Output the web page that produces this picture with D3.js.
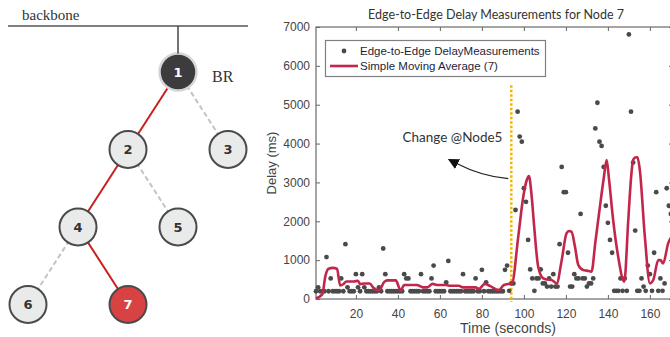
<!DOCTYPE html>
<html>
<head>
<meta charset="utf-8">
<script src="https://cdn.jsdelivr.net/npm/d3@7"></script>
<style>
  body { margin: 0; background: #fff; }
  svg { display: block; }
</style>
</head>
<body>
<svg id="chart" width="670" height="337"></svg>
<script>
// network tree on the left
const nodeIds     = ["1", "2", "3", "4", "5", "6", "7"];
const nodeParents = [null, "1", "1", "2", "2", "4", "4"];
const pathNodes   = ["1", "2", "4", "7"];   // route from BR to node 7
const targetNode  = "7";

// delay measurements, one per second starting at t = 1
const delays = [
  200, 300, 200, 200, 200, 1080, 200, 530, 200, 200,
  200, 200, 530, 200, 1410, 300, 200, 200, 200, 640,
  300, 200, 640, 300, 200, 200, 200, 200, 200, 200,
  300, 200, 1300, 640, 200, 200, 200, 200, 200, 200,
  200, 200, 640, 530, 530, 200, 200, 200, 200, 200,
  640, 200, 200, 200, 200, 530, 860, 200, 200, 200,
  200, 200, 430, 980, 200, 200, 200, 200, 200, 200,
  640, 200, 200, 200, 200, 200, 530, 200, 200, 750,
  200, 430, 200, 200, 200, 200, 200, 200, 200, 200,
  750, 860, 210, 400, 400, 2290, 4820, 4180, 4050, 2850,
  2500, 1520, 760, 530, 210, 530, 530, 760, 400, 400,
  320, 530, 320, 640, 320, 320, 1410, 3400, 2750, 2750,
  1190, 320, 320, 640, 530, 530, 2190, 530, 530, 320,
  400, 400, 530, 4390, 5050, 4050, 3940, 3400, 2400, 1960,
  1520, 1190, 210, 210, 210, 530, 210, 530, 210, 6810,
  4820, 3510, 1760, 210, 210, 530, 320, 210, 860, 640,
  210, 1190, 2750, 210, 530, 210, 400, 2850, 2400, 2190
];

// simple moving average (7) as drawn
const smaTimes = [1, 4, 5.5, 7, 9, 11, 12.5, 14, 15.5, 19, 21, 22, 24, 26.5, 28.5, 31, 33.5, 35, 39, 41.3,
  43, 49, 52, 54, 56.5, 59, 63, 65, 69, 71, 77, 78.6, 81.4, 84, 88, 90.5, 93, 94.3, 97.3, 99.7,
  101.3, 102.4, 103.6, 104.9, 106.8, 109.2, 111, 113.2, 115.6, 118, 120.3, 121.5, 122.7, 124.3, 125.9, 128.2,
  130, 132.2, 134, 136.2, 138, 139.4, 140.5, 142.5, 144.9, 147.8, 149.7, 151, 152, 153, 154.1, 155.2,
  157.6, 160, 161.6, 164, 165, 166.3, 168.7, 171];
const smaValues = [20, 120, 600, 780, 800, 780, 350, 380, 450, 450, 470, 380, 400, 400, 280, 220, 440, 480, 480, 220,
  360, 360, 300, 300, 390, 360, 360, 340, 340, 300, 300, 260, 390, 330, 230, 360, 390, 400, 1600, 2630,
  3050, 3165, 2700, 1860, 830, 530, 500, 490, 400, 1000, 1690, 1750, 1730, 1350, 875, 746,
  730, 703, 1450, 2376, 3100, 3577, 3100, 2033, 1089, 445, 2033, 3100, 3577, 3640, 3646, 3320,
  1603, 403, 489, 1003, 1000, 918, 1433, 1650];

const xTicks = [20, 40, 60, 80, 100, 120, 140, 160];
const yTicks = [0, 1000, 2000, 3000, 4000, 5000, 6000, 7000];
const changeTime = 94;

const svg = d3.select("#chart");

// ---------- tree ----------
const rows = nodeIds.map((id, i) => ({ id: id, parent: nodeParents[i] }));
const root = d3.stratify().id(d => d.id).parentId(d => d.parent)(rows);
d3.tree().nodeSize([100, 77.5]).separation(() => 1)(root);

const tg = svg.append("g").attr("transform", "translate(178,72)");
const nodeR = 18.5;

svg.append("line")
  .attr("x1", 8).attr("x2", 248).attr("y1", 26).attr("y2", 26)
  .attr("stroke", "#555").attr("stroke-width", 1.5);
svg.append("line")
  .attr("x1", 178).attr("x2", 178).attr("y1", 26).attr("y2", 72 - nodeR)
  .attr("stroke", "#444").attr("stroke-width", 1.5);
svg.append("text")
  .attr("x", 22).attr("y", 20)
  .attr("font-family", "Liberation Serif, serif").attr("font-size", 15)
  .attr("fill", "#333").text("backbone");

const onPath = l => pathNodes.includes(l.source.id) && pathNodes.includes(l.target.id);

tg.selectAll("line.edge")
  .data(root.links())
  .join("line")
    .attr("class", "edge")
    .attr("x1", d => d.source.x).attr("y1", d => d.source.y)
    .attr("x2", d => d.target.x).attr("y2", d => d.target.y)
    .attr("stroke", d => onPath(d) ? "#c8201e" : "#c4c4c4")
    .attr("stroke-width", 2)
    .attr("stroke-dasharray", d => onPath(d) ? null : "5,3");

const nodes = tg.selectAll("g.node")
  .data(root.descendants())
  .join("g")
    .attr("class", "node")
    .attr("transform", d => `translate(${d.x},${d.y})`);

nodes.append("circle")
  .attr("r", nodeR)
  .attr("fill", d => d.depth === 0 ? "#3c3c3e" : d.id === targetNode ? "#d94242" : "#e9ebeb")
  .attr("stroke", d => d.depth === 0 ? "#d6d6d6" : "#4a4a4a")
  .attr("stroke-width", d => d.depth === 0 ? 2.5 : 2);

nodes.append("text")
  .attr("text-anchor", "middle")
  .attr("dy", "0.36em")
  .attr("font-family", "DejaVu Sans, sans-serif")
  .attr("font-weight", "bold")
  .attr("font-size", 13)
  .attr("fill", d => (d.depth === 0 || d.id === targetNode) ? "#fff" : "#333")
  .text(d => d.id);

tg.append("text")
  .attr("x", 34).attr("y", 10)
  .attr("font-family", "Liberation Serif, serif").attr("font-size", 16)
  .attr("fill", "#333").text("BR");

// ---------- delay chart ----------
const x = d3.scaleLinear().domain([1, 171]).range([316, 673]);
const y = d3.scaleLinear().domain([0, 7000]).range([299, 27]);

const axisFont = g => g
  .call(g => g.select(".domain").remove())
  .call(g => g.selectAll(".tick line").attr("stroke", "#666"))
  .call(g => g.selectAll(".tick text")
    .attr("font-family", "Liberation Sans, Arial, sans-serif")
    .attr("font-size", 12).attr("fill", "#444"));

svg.append("g")
  .attr("transform", `translate(0,${y(0)})`)
  .call(d3.axisBottom(x).tickValues(xTicks).tickSize(-4).tickPadding(10))
  .call(axisFont);
svg.append("g")
  .attr("transform", `translate(0,${y(7000)})`)
  .call(d3.axisTop(x).tickValues(xTicks).tickSize(-4).tickFormat(""))
  .call(axisFont);
svg.append("g")
  .attr("transform", `translate(${x(1)},0)`)
  .call(d3.axisLeft(y).tickValues(yTicks).tickFormat(d3.format("d")).tickSize(-4).tickPadding(6))
  .call(axisFont);
svg.append("g")
  .attr("transform", `translate(${x(171)},0)`)
  .call(d3.axisRight(y).tickValues(yTicks).tickSize(-4).tickFormat(""))
  .call(axisFont);

svg.append("rect")
  .attr("x", x(1)).attr("y", y(7000))
  .attr("width", x(171) - x(1)).attr("height", y(0) - y(7000))
  .attr("fill", "none").attr("stroke", "#6a6a6a").attr("stroke-width", 1.2);

// change marker
svg.append("line")
  .attr("x1", x(changeTime)).attr("x2", x(changeTime))
  .attr("y1", y(5500)).attr("y2", y(0) + 3)
  .attr("stroke", "#f5b400").attr("stroke-width", 2.5)
  .attr("stroke-dasharray", "2.5,2");

// measurements
svg.append("g")
  .selectAll("circle")
  .data(delays)
  .join("circle")
    .attr("cx", (d, i) => x(i + 1))
    .attr("cy", d => y(d))
    .attr("r", 2.4)
    .attr("fill", "#4a4a4a");

// moving average
const sma = smaTimes.map((t, i) => [t, smaValues[i]]);
svg.append("path")
  .datum(sma)
  .attr("fill", "none")
  .attr("stroke", "#c2264a")
  .attr("stroke-width", 2.6)
  .attr("stroke-linejoin", "round")
  .attr("d", d3.line().x(d => x(d[0])).y(d => y(d[1])).curve(d3.curveMonotoneX));

// annotation
svg.append("defs").append("marker")
  .attr("id", "arrow")
  .attr("viewBox", "0 0 10 10")
  .attr("refX", 2).attr("refY", 5)
  .attr("markerWidth", 11).attr("markerHeight", 11)
  .attr("markerUnits", "userSpaceOnUse")
  .attr("orient", "auto")
  .append("path").attr("d", "M0,0 L10,5 L0,10 z").attr("fill", "#111");

svg.append("path")
  .attr("d", `M${x(changeTime) - 3},${y(3100)} Q${x(80)},${y(3150)} ${x(67.5)},${y(3500)}`)
  .attr("fill", "none").attr("stroke", "#222").attr("stroke-width", 1.2)
  .attr("marker-end", "url(#arrow)");

svg.append("text")
  .attr("x", x(66)).attr("y", y(4050))
  .attr("text-anchor", "middle")
  .attr("font-family", "Lato, sans-serif").attr("font-size", 13.5)
  .attr("fill", "#333").text("Change @Node5");

// titles
svg.append("text")
  .attr("x", 496).attr("y", 19)
  .attr("text-anchor", "middle")
  .attr("font-family", "Lato, sans-serif").attr("font-size", 12.5)
  .attr("fill", "#333").text("Edge-to-Edge Delay Measurements for Node 7");

svg.append("text")
  .attr("transform", `translate(276,${(y(0) + y(7000)) / 2}) rotate(-90)`)
  .attr("text-anchor", "middle")
  .attr("font-family", "Liberation Sans, Arial, sans-serif").attr("font-size", 13)
  .attr("fill", "#444").text("Delay (ms)");

svg.append("text")
  .attr("x", 508).attr("y", 333)
  .attr("text-anchor", "middle")
  .attr("font-family", "Liberation Sans, Arial, sans-serif").attr("font-size", 14)
  .attr("fill", "#444").text("Time (seconds)");

// legend
const lg = svg.append("g").attr("transform", "translate(325.5,40.5)");
lg.append("rect").attr("width", 220).attr("height", 36)
  .attr("fill", "#fff").attr("stroke", "#808080").attr("stroke-width", 1.2);
lg.append("circle").attr("cx", 18.5).attr("cy", 10.5).attr("r", 2.4).attr("fill", "#4a4a4a");
lg.append("line").attr("x1", 4.5).attr("x2", 32.5).attr("y1", 25.5).attr("y2", 25.5)
  .attr("stroke", "#c2264a").attr("stroke-width", 2.6);
const legendText = lg.append("g")
  .attr("font-family", "Liberation Sans, Arial, sans-serif")
  .attr("font-size", 11.5).attr("fill", "#1e1e3c");
legendText.append("text").attr("x", 34.5).attr("y", 14.5).text("Edge-to-Edge DelayMeasurements");
legendText.append("text").attr("x", 34.5).attr("y", 29.5).text("Simple Moving Average (7)");
</script>
</body>
</html>
